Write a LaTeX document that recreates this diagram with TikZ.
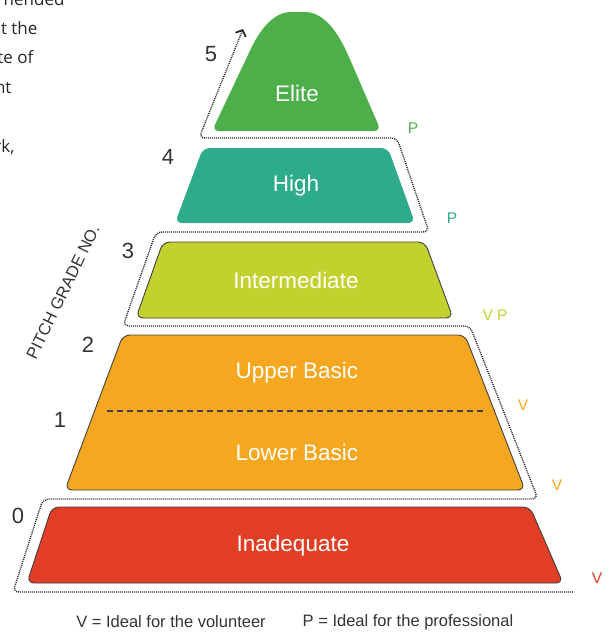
\documentclass[tikz,border=0pt]{standalone}
\usepackage{fontspec}
\setmainfont{Liberation Sans}
\newfontfamily\pagefont{Open Sans}
\usetikzlibrary{arrows.meta}

\definecolor{eliteGreen}{HTML}{4DAF4A}
\definecolor{highTeal}{HTML}{2EAB8B}
\definecolor{midLime}{HTML}{C3D12F}
\definecolor{basicOrange}{HTML}{F5A81F}
\definecolor{lowRed}{HTML}{E23D25}
\definecolor{inkGray}{HTML}{333333}

\tikzset{
  tier/.style={rounded corners=7pt},
  tieredge/.style={draw=black!75, line width=0.9pt},
  tierlabel/.style={text=white, font=\fontsize{22.5}{22.5}\selectfont},
  gradeno/.style={text=inkGray, font=\fontsize{22}{22}\selectfont},
  usertag/.style={font=\fontsize{15.5}{15.5}\selectfont},
  legend/.style={text=inkGray, font=\fontsize{16.5}{16.5}\selectfont},
  pagetext/.style={anchor=base east, text=black!85, font=\pagefont\fontsize{17}{17}\selectfont},
  stairline/.style={black!85, line width=1.4pt, dash pattern=on 1pt off 1pt, rounded corners=6pt},
  splitline/.style={black!75, line width=1.3pt, dash pattern=on 6pt off 4pt},
}

\begin{document}
\begin{tikzpicture}[x=1pt,y=-1pt]
  \useasboundingbox (0,0) rectangle (610,633);

  % text of the page, cut by the frame
  \node[pagetext] (line1) at (68,5) {nended};
  \node[pagetext] (line2) at (41,34) {t the};
  \node[pagetext] (line3) at (37,63) {te of};
  \node[pagetext] (line4) at (15,93) {nt};
  \node[pagetext] (line5) at (18,152) {rk,};

  % tiers
  \filldraw[tier, tieredge, fill=lowRed] (290,507) -- (530,507) -- (563,583) -- (27,583) -- (52,507) -- cycle;
  \filldraw[tier, tieredge, fill=basicOrange] (295,335) -- (465,335) -- (525,490) -- (65,490) -- (123,335) -- cycle;
  \filldraw[tier, tieredge, fill=midLime] (295,242) -- (425,242) -- (453,318) -- (136,318) -- (163,242) -- cycle;
  \fill[tier, highTeal] (295,148) -- (388,148) -- (415,223) -- (175,223) -- (203,148) -- cycle;
  \fill[tier, eliteGreen] (296,131) -- (212,131) -- (247,57) .. controls (260,29) and (274,12) .. (298,12) .. controls (322,12) and (336,29) .. (349,57) -- (381,131) -- cycle;
  \draw[splitline] (107,411) -- (486,411);

  \node[tierlabel] (elite) at (297,93) {Elite};
  \node[tierlabel] (high) at (296,186) {High};
  \node[tierlabel] (inter) at (296,280) {Intermediate};
  \node[tierlabel] (upper) at (297,373) {Upper Basic};
  \node[tierlabel] (lower) at (297,452) {Lower Basic};
  \node[tierlabel] (inad) at (293,546) {Inadequate};

  % the stair up
  \draw[stairline, -{Straight Barb[length=5pt, width=11pt, line width=1.8pt]}]
    (573,592) -- (13,592) -- (43,499) -- (538,499) -- (470,326) -- (123,326)
    -- (156,232) -- (429,232) -- (397,138) -- (199,138) -- (243,29);

  % grade numbers
  \node[gradeno] (g5) at (211,54) {5};
  \node[gradeno] (g4) at (168,157) {4};
  \node[gradeno] (g3) at (128,251) {3};
  \node[gradeno] (g2) at (88,345) {2};
  \node[gradeno] (g1) at (60,420) {1};
  \node[gradeno] (g0) at (18,516) {0};
  \node[rotate=64, text=inkGray, inner sep=0pt, font=\fontsize{16.5}{16.5}\selectfont] (axis) at (63,292) {PITCH GRADE NO.};

  % who it suits
  \node[usertag, text=eliteGreen] (t5) at (413,128) {P};
  \node[usertag, text=highTeal] (t4) at (452,218) {P};
  \node[usertag, text=midLime] (t3) at (495,315) {V P};
  \node[usertag, text=basicOrange] (t2) at (523,405) {V};
  \node[usertag, text=basicOrange] (t1) at (557,485) {V};
  \node[usertag, text=lowRed] (t0) at (597,578) {V};

  \node[legend] (legv) at (171,622) {V = Ideal for the volunteer};
  \node[legend] (legp) at (408,622) {P = Ideal for the professional};
\end{tikzpicture}
\end{document}
